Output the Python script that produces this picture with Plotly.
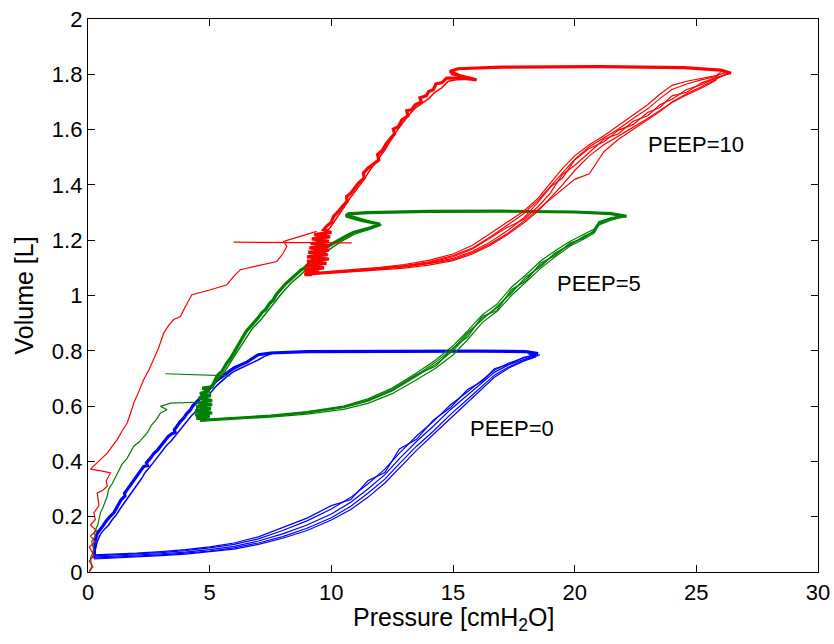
import plotly.graph_objects as go

# ---------------- PEEP = 0 (blue) ----------------
blue_insp_P = [0.25, 1, 2, 3, 4, 5, 6, 7, 8, 9, 10, 10.8, 11.5, 12.2, 12.8, 13.5, 14.2, 14.9, 15.6, 16.2, 16.7, 17.3, 17.9, 18.4]
blue_insp_V = [
    [0.050, 0.053, 0.057, 0.062, 0.068, 0.076, 0.087, 0.105, 0.128, 0.158, 0.196, 0.238, 0.285, 0.336, 0.392, 0.455, 0.510, 0.570, 0.625, 0.672, 0.712, 0.742, 0.765, 0.780],
    [0.054, 0.057, 0.061, 0.066, 0.072, 0.081, 0.093, 0.112, 0.138, 0.170, 0.210, 0.252, 0.300, 0.352, 0.410, 0.472, 0.528, 0.588, 0.640, 0.684, 0.722, 0.750, 0.770, 0.784],
    [0.058, 0.061, 0.065, 0.070, 0.077, 0.087, 0.100, 0.120, 0.150, 0.185, 0.228, 0.270, 0.318, 0.372, 0.430, 0.492, 0.545, 0.605, 0.652, 0.694, 0.730, 0.756, 0.774, 0.786],
    [0.062, 0.064, 0.068, 0.074, 0.081, 0.091, 0.105, 0.127, 0.160, 0.195, 0.240, 0.262, 0.330, 0.360, 0.445, 0.480, 0.550, 0.595, 0.660, 0.690, 0.735, 0.752, 0.776, 0.783],
    [0.047, 0.050, 0.054, 0.059, 0.065, 0.073, 0.083, 0.100, 0.122, 0.150, 0.188, 0.226, 0.270, 0.322, 0.378, 0.440, 0.498, 0.556, 0.612, 0.662, 0.704, 0.738, 0.762, 0.778],
]
blue_tip_P = [18.57, 18.40, 18.20, 18.50, 18.10]
blue_tip_V = [0.786, 0.790, 0.788, 0.787, 0.789]
blue_exp_P = [18.5, 18.0, 16.0, 12.0, 9.0, 7.5, 7.0, 6.75, 6.55, 6.3, 6.0, 5.75, 5.5, 5.25, 5.05, 4.9, 4.75, 4.6, 4.45, 4.3, 4.2, 4.05, 3.95, 3.8, 3.66, 3.55, 3.58, 3.45, 3.3, 3.15, 2.98, 2.85, 2.7, 2.55, 2.4, 2.45, 2.29, 2.15, 2.0, 1.85, 1.7, 1.61, 1.5, 1.52, 1.35, 1.2, 1.06, 0.9, 0.75, 0.6, 0.45, 0.38, 0.3, 0.26, 0.25, 0.25]
blue_exp_V = [0.790, 0.797, 0.799, 0.799, 0.797, 0.792, 0.786, 0.772, 0.760, 0.750, 0.738, 0.722, 0.705, 0.690, 0.668, 0.655, 0.640, 0.625, 0.612, 0.600, 0.585, 0.572, 0.558, 0.545, 0.527, 0.515, 0.505, 0.500, 0.490, 0.475, 0.455, 0.440, 0.428, 0.410, 0.395, 0.385, 0.382, 0.365, 0.345, 0.325, 0.310, 0.298, 0.285, 0.275, 0.260, 0.235, 0.214, 0.200, 0.185, 0.165, 0.150, 0.140, 0.115, 0.090, 0.070, 0.050]
blue_exp2_P = [7.7, 7.25, 6.95, 6.65, 6.35, 6.05, 5.75, 5.5, 5.3, 5.1, 4.95, 4.8, 4.65, 4.5, 4.4, 4.25, 4.1, 3.95, 3.82, 3.7, 3.55, 3.4, 3.25, 3.1, 2.95, 2.8, 2.65, 2.5, 2.35, 2.2, 2.05, 1.9, 1.75, 1.6, 1.45, 1.3, 1.15, 1.0, 0.85, 0.68, 0.52, 0.38, 0.30, 0.28]
blue_exp2_V = [0.795, 0.780, 0.765, 0.752, 0.742, 0.728, 0.710, 0.692, 0.675, 0.655, 0.638, 0.622, 0.605, 0.594, 0.578, 0.565, 0.548, 0.535, 0.518, 0.505, 0.490, 0.472, 0.460, 0.442, 0.425, 0.410, 0.392, 0.375, 0.360, 0.338, 0.320, 0.302, 0.285, 0.265, 0.245, 0.226, 0.205, 0.190, 0.170, 0.155, 0.138, 0.110, 0.080, 0.055]

# ---------------- PEEP = 5 (green) ----------------
green_init_P = [0.05, 0.15, 0.10, 0.25, 0.15, 0.30, 0.24, 0.40, 0.51, 0.60, 0.79, 0.85, 1.00, 1.20, 1.40, 1.60, 1.88, 2.10, 2.43, 2.60, 2.80, 2.98, 3.25, 2.98, 3.39, 4.48, 4.70]
green_init_V = [0.000, 0.020, 0.050, 0.080, 0.110, 0.130, 0.140, 0.170, 0.214, 0.230, 0.274, 0.300, 0.320, 0.358, 0.390, 0.410, 0.455, 0.470, 0.503, 0.530, 0.550, 0.575, 0.587, 0.599, 0.611, 0.614, 0.610]
green_stub_P = [3.18, 4.50, 5.85]
green_stub_V = [0.717, 0.714, 0.709]
green_insp_P = [4.7, 6, 7.5, 9, 10.5, 11.5, 12.5, 13.5, 14.3, 15, 15.6, 16.2, 16.8, 17.4, 18, 18.6, 19.2, 19.8, 20.4, 20.8, 21.0, 21.5]
green_insp_V = [
    [0.548, 0.556, 0.563, 0.575, 0.594, 0.618, 0.655, 0.708, 0.752, 0.800, 0.860, 0.918, 0.955, 1.015, 1.060, 1.110, 1.150, 1.185, 1.212, 1.232, 1.262, 1.276],
    [0.552, 0.560, 0.567, 0.580, 0.600, 0.626, 0.665, 0.720, 0.768, 0.818, 0.872, 0.930, 0.968, 1.030, 1.075, 1.125, 1.162, 1.195, 1.222, 1.240, 1.268, 1.280],
    [0.546, 0.553, 0.560, 0.571, 0.588, 0.610, 0.645, 0.695, 0.738, 0.785, 0.840, 0.902, 0.942, 1.000, 1.048, 1.098, 1.140, 1.178, 1.205, 1.226, 1.255, 1.272],
    [0.550, 0.558, 0.565, 0.578, 0.597, 0.622, 0.660, 0.714, 0.745, 0.810, 0.850, 0.925, 0.945, 1.022, 1.052, 1.118, 1.145, 1.190, 1.208, 1.236, 1.258, 1.278],
    [0.549, 0.557, 0.564, 0.576, 0.596, 0.620, 0.658, 0.712, 0.760, 0.808, 0.866, 0.912, 0.960, 1.008, 1.068, 1.104, 1.155, 1.182, 1.216, 1.230, 1.265, 1.282],
]
green_tip_P = [22.13, 21.90, 22.00, 21.80, 22.10]
green_tip_V = [1.286, 1.288, 1.284, 1.287, 1.289]
green_exp_P = [22.13, 21.5, 20.0, 17.0, 14.0, 11.5, 10.7, 10.6, 11.2, 12.0, 11.6, 10.9, 10.6, 10.4, 10.2, 10.0, 9.8, 9.6, 9.45, 9.27, 9.1, 8.9, 8.75, 8.6, 8.45, 8.31, 8.1, 7.9, 7.75, 7.62, 7.45, 7.3, 7.15, 7.0, 6.85, 6.67, 6.5, 6.4, 6.3, 6.2, 6.1, 5.98, 5.85, 5.7, 5.6, 5.5, 5.4, 5.3, 5.2, 5.1,
               4.7, 5.0, 4.6, 5.05, 4.55, 5.1, 4.5, 5.1, 4.45, 5.05, 4.4, 5.1, 4.4, 5.0, 4.45, 4.9, 4.6]
green_exp_V = [1.286, 1.296, 1.302, 1.305, 1.304, 1.300, 1.295, 1.288, 1.272, 1.258, 1.245, 1.228, 1.215, 1.205, 1.198, 1.185, 1.175, 1.160, 1.148, 1.130, 1.118, 1.100, 1.092, 1.080, 1.070, 1.057, 1.040, 1.021, 1.005, 0.985, 0.970, 0.950, 0.938, 0.920, 0.905, 0.888, 0.870, 0.855, 0.840, 0.820, 0.805, 0.792, 0.772, 0.755, 0.742, 0.725, 0.718, 0.708, 0.690, 0.670,
               0.665, 0.655, 0.645, 0.638, 0.630, 0.620, 0.612, 0.605, 0.598, 0.590, 0.582, 0.575, 0.568, 0.562, 0.556, 0.552, 0.548]
green_exp2_P = [10.7, 10.75, 11.5, 12.05, 11.6, 10.95, 10.45, 10.05, 9.65, 9.35, 9.0, 8.7, 8.35, 8.0, 7.7, 7.4, 7.1, 6.75, 6.5, 6.27, 6.05, 5.8, 5.6, 5.35, 5.1]
green_exp2_V = [1.300, 1.290, 1.270, 1.255, 1.240, 1.222, 1.198, 1.175, 1.150, 1.125, 1.095, 1.072, 1.045, 1.012, 0.978, 0.945, 0.912, 0.880, 0.848, 0.815, 0.785, 0.750, 0.722, 0.700, 0.665]

# ---------------- PEEP = 10 (red) ----------------
red_init_P = [0.05, 0.20, 0.05, 0.25, 0.05, 0.30, 0.10, 0.35, 0.10, 0.30, 0.24, 0.45, 0.38, 0.60, 0.79, 0.75, 0.92, 0.60, 0.10, 0.38, 0.55, 0.79, 1.00, 1.20, 1.40, 1.61, 1.75, 1.88, 2.10, 2.29, 2.50, 2.70, 2.90, 3.11, 3.30, 3.52, 3.80, 4.00, 4.27, 5.00, 5.71, 6.00, 6.26, 7.00, 7.76, 8.00, 8.17, 8.04, 8.72, 9.40]
red_init_V = [0.000, 0.020, 0.040, 0.060, 0.090, 0.110, 0.130, 0.150, 0.170, 0.190, 0.214, 0.240, 0.286, 0.295, 0.310, 0.330, 0.358, 0.365, 0.372, 0.395, 0.410, 0.430, 0.455, 0.479, 0.510, 0.539, 0.575, 0.611, 0.655, 0.696, 0.730, 0.768, 0.810, 0.864, 0.890, 0.913, 0.924, 0.960, 1.003, 1.020, 1.039, 1.070, 1.093, 1.108, 1.123, 1.150, 1.177, 1.196, 1.214, 1.232]
red_stub_P = [5.98, 8.50, 10.84]
red_stub_V = [1.193, 1.192, 1.190]
red_insp_P = [8.9, 10, 11, 12, 13, 14, 15, 15.8, 16.5, 17.2, 17.9, 18.5, 19.0, 19.5, 20.0, 20.6, 21.2, 21.8, 22.4, 23.0, 23.5, 24.0, 24.6, 25.2, 25.8]
red_insp_V = [
    [1.076, 1.082, 1.088, 1.095, 1.103, 1.116, 1.134, 1.160, 1.192, 1.232, 1.280, 1.338, 1.392, 1.425, 1.490, 1.532, 1.556, 1.598, 1.618, 1.662, 1.680, 1.722, 1.735, 1.768, 1.788],
    [1.080, 1.087, 1.094, 1.102, 1.112, 1.127, 1.150, 1.182, 1.222, 1.262, 1.305, 1.352, 1.405, 1.460, 1.505, 1.545, 1.578, 1.615, 1.652, 1.690, 1.728, 1.760, 1.775, 1.785, 1.795],
    [1.074, 1.080, 1.086, 1.092, 1.099, 1.110, 1.126, 1.150, 1.180, 1.218, 1.262, 1.305, 1.352, 1.400, 1.452, 1.505, 1.545, 1.575, 1.608, 1.640, 1.668, 1.698, 1.725, 1.750, 1.778],
    [1.077, 1.083, 1.089, 1.096, 1.104, 1.115, 1.130, 1.155, 1.185, 1.222, 1.268, 1.312, 1.350, 1.385, 1.420, 1.440, 1.520, 1.565, 1.600, 1.635, 1.665, 1.700, 1.730, 1.755, 1.782],
    [1.079, 1.085, 1.092, 1.099, 1.108, 1.122, 1.144, 1.172, 1.210, 1.252, 1.296, 1.345, 1.395, 1.445, 1.492, 1.538, 1.570, 1.602, 1.640, 1.675, 1.712, 1.745, 1.765, 1.780, 1.792],
    [1.078, 1.084, 1.091, 1.098, 1.106, 1.119, 1.140, 1.168, 1.205, 1.245, 1.275, 1.322, 1.370, 1.438, 1.470, 1.518, 1.565, 1.585, 1.630, 1.650, 1.690, 1.710, 1.745, 1.762, 1.786],
]
red_tip_P = [26.43, 26.20, 25.90, 26.30, 26.00, 26.35]
red_tip_V = [1.804, 1.806, 1.802, 1.805, 1.808, 1.803]
red_exp_P = [26.43, 26.0, 24.5, 21.0, 17.0, 15.2, 14.87, 15.3, 15.97, 15.4, 14.74, 14.55, 14.3, 14.19, 14.0, 13.9, 13.64, 13.7, 13.45, 13.3, 13.1, 13.15, 12.9, 12.75, 12.55, 12.6, 12.4, 12.25, 12.1, 11.9, 11.95, 11.7, 11.5, 11.32, 11.35, 11.1, 10.95, 10.8, 10.63, 10.65, 10.45, 10.3, 10.09, 10.0, 9.8, 9.68,
             10.0, 9.3, 9.95, 9.2, 9.9, 9.15, 9.95, 9.1, 9.9, 9.05, 9.85, 9.0, 9.9, 9.0, 9.8, 8.95, 9.7, 8.9, 9.5, 8.9, 9.2, 8.9]
red_exp_V = [1.804, 1.815, 1.824, 1.828, 1.826, 1.820, 1.810, 1.795, 1.780, 1.786, 1.786, 1.770, 1.765, 1.744, 1.738, 1.722, 1.715, 1.700, 1.690, 1.672, 1.668, 1.650, 1.635, 1.610, 1.602, 1.585, 1.565, 1.548, 1.525, 1.510, 1.490, 1.475, 1.460, 1.443, 1.425, 1.405, 1.385, 1.370, 1.358, 1.340, 1.322, 1.305, 1.286, 1.265, 1.250, 1.238,
             1.228, 1.220, 1.212, 1.205, 1.196, 1.188, 1.180, 1.172, 1.164, 1.156, 1.148, 1.140, 1.132, 1.124, 1.116, 1.108, 1.100, 1.092, 1.085, 1.078, 1.075, 1.075]
red_exp2_P = [14.9, 15.7, 15.15, 14.8, 14.55, 14.25, 14.0, 13.75, 13.45, 13.2, 12.95, 12.65, 12.4, 12.15, 11.85, 11.6, 11.35, 11.05, 10.75, 10.45, 10.2, 9.95, 9.75]
red_exp2_V = [1.800, 1.782, 1.780, 1.775, 1.752, 1.735, 1.712, 1.695, 1.678, 1.655, 1.625, 1.590, 1.555, 1.520, 1.485, 1.455, 1.420, 1.385, 1.350, 1.310, 1.275, 1.245, 1.230]

# ---------------- labels ----------------
label_text = ["PEEP=10", "PEEP=5", "PEEP=0"]
label_P = [22.94, 19.18, 15.63]
label_V = [1.545, 1.042, 0.518]

BLUE = "rgb(0,0,255)"
GREEN = "rgb(0,128,0)"
RED = "rgb(255,0,0)"
THIN = 1.2
THICK = 3.2

fig = go.Figure()

def add_line(x, y, color, width):
    fig.add_trace(go.Scatter(x=x, y=y, mode="lines", showlegend=False, hoverinfo="skip",
                             line=dict(color=color, width=width)))

def add_group(insp_P, insp_V, tip_P, tip_V, exp_P, exp_V, exp2_P, exp2_V, color):
    add_line(exp_P, exp_V, color, THICK)
    add_line(exp2_P, exp2_V, color, 1.5)
    for cyc, tp, tv in zip(insp_V, tip_P, tip_V):
        add_line(insp_P + [tp], cyc + [tv], color, THIN)

# blue
add_group(blue_insp_P, blue_insp_V, blue_tip_P, blue_tip_V, blue_exp_P, blue_exp_V, blue_exp2_P, blue_exp2_V, BLUE)
# green
add_line(green_init_P, green_init_V, GREEN, THIN)
add_line(green_stub_P, green_stub_V, GREEN, THIN)
add_group(green_insp_P, green_insp_V, green_tip_P, green_tip_V, green_exp_P, green_exp_V, green_exp2_P, green_exp2_V, GREEN)
# red
add_line(red_init_P, red_init_V, RED, THIN)
add_line(red_stub_P, red_stub_V, RED, THIN)
add_group(red_insp_P, red_insp_V, red_tip_P, red_tip_V, red_exp_P, red_exp_V, red_exp2_P, red_exp2_V, RED)

FONT = "Liberation Sans, Arial, Helvetica, sans-serif"

for t, px, py in zip(label_text, label_P, label_V):
    fig.add_annotation(x=px, y=py, xref="x", yref="y", text=t, showarrow=False,
                       xanchor="left", yanchor="middle", font=dict(size=22, color="black", family=FONT))

# axis titles
fig.add_annotation(x=0.5, y=-0.053, xref="paper", yref="paper", text="Pressure [cmH<sub>2</sub>O]",
                   showarrow=False, xanchor="center", yanchor="top",
                   font=dict(size=25, color="black", family=FONT))
fig.add_annotation(x=-0.089, y=0.5, xref="paper", yref="paper", text="Volume [L]", textangle=-90,
                   showarrow=False, xanchor="center", yanchor="middle",
                   font=dict(size=25, color="black", family=FONT))

axis_common = dict(ticks="inside", ticklen=7, tickwidth=1.3, tickcolor="black",
                   showline=True, linecolor="black", linewidth=1.3, mirror="ticks",
                   showgrid=False, zeroline=False,
                   tickfont=dict(size=22, color="black", family=FONT))

fig.update_layout(
    width=834, height=644,
    margin=dict(l=88, r=16, t=19, b=72, autoexpand=False),
    paper_bgcolor="white", plot_bgcolor="white",
    font=dict(family=FONT, color="black"),
    xaxis=dict(range=[0, 30], tickmode="linear", tick0=0, dtick=5, **axis_common),
    yaxis=dict(range=[0, 2], tickmode="linear", tick0=0, dtick=0.2, **axis_common),
)

fig.write_html("out.html")
